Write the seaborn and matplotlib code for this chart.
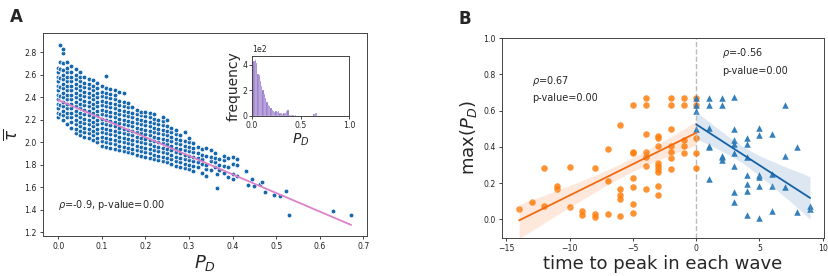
import numpy as np
import pandas as pd
import matplotlib
matplotlib.use("Agg")
import matplotlib.pyplot as plt
import seaborn as sns

sns.set_style("ticks")
plt.rcParams['font.family'] = ['DejaVu Sans']

# ---------------- Panel A data ----------------
pd_cols = [0.00, 0.005, 0.01, 0.02, 0.03, 0.04, 0.05, 0.06, 0.07, 0.08, 0.09, 0.10,
           0.11, 0.12, 0.13, 0.14, 0.15, 0.16, 0.17, 0.18, 0.19, 0.20, 0.21, 0.22,
           0.23, 0.24, 0.25, 0.26, 0.27, 0.28, 0.29, 0.30, 0.31, 0.32, 0.33, 0.34,
           0.35, 0.36, 0.365, 0.37, 0.38, 0.39, 0.40, 0.41]
tau_cols = [
    [2.22, 2.26, 2.30, 2.34, 2.38, 2.42, 2.46, 2.50, 2.54, 2.58, 2.62, 2.66],
    [2.25, 2.33, 2.41, 2.49, 2.57, 2.65, 2.71, 2.86],
    [2.20, 2.24, 2.28, 2.32, 2.36, 2.40, 2.44, 2.48, 2.52, 2.56, 2.60, 2.64, 2.70, 2.79, 2.83],
    [2.16, 2.22, 2.26, 2.30, 2.34, 2.38, 2.42, 2.46, 2.50, 2.54, 2.58, 2.62, 2.66, 2.71],
    [2.13, 2.18, 2.22, 2.26, 2.30, 2.34, 2.38, 2.42, 2.46, 2.50, 2.54, 2.58, 2.62, 2.68],
    [2.08, 2.12, 2.16, 2.20, 2.24, 2.28, 2.32, 2.36, 2.40, 2.44, 2.48, 2.52, 2.56, 2.60, 2.65],
    [2.06, 2.10, 2.14, 2.18, 2.22, 2.26, 2.30, 2.34, 2.38, 2.42, 2.46, 2.50, 2.54, 2.58, 2.62],
    [2.05, 2.09, 2.13, 2.17, 2.21, 2.25, 2.29, 2.33, 2.37, 2.41, 2.45, 2.49, 2.53, 2.58],
    [2.04, 2.08, 2.12, 2.16, 2.20, 2.24, 2.28, 2.32, 2.36, 2.40, 2.44, 2.48, 2.52, 2.56],
    [2.02, 2.06, 2.10, 2.14, 2.18, 2.22, 2.26, 2.30, 2.34, 2.38, 2.42, 2.46, 2.50, 2.55],
    [2.00, 2.04, 2.08, 2.12, 2.16, 2.20, 2.24, 2.28, 2.32, 2.36, 2.40, 2.44, 2.48, 2.53],
    [1.97, 2.01, 2.05, 2.09, 2.13, 2.17, 2.21, 2.25, 2.29, 2.33, 2.37, 2.41, 2.45, 2.50],
    [1.96, 2.00, 2.04, 2.08, 2.12, 2.16, 2.20, 2.24, 2.28, 2.32, 2.36, 2.40, 2.44, 2.48, 2.59],
    [1.95, 1.99, 2.03, 2.07, 2.11, 2.15, 2.19, 2.23, 2.27, 2.31, 2.35, 2.39, 2.43, 2.47],
    [1.94, 1.98, 2.02, 2.06, 2.10, 2.14, 2.18, 2.22, 2.26, 2.30, 2.34, 2.38, 2.42, 2.46],
    [1.93, 1.97, 2.01, 2.05, 2.09, 2.13, 2.17, 2.21, 2.25, 2.29, 2.33, 2.37, 2.45],
    [1.92, 1.96, 2.00, 2.04, 2.08, 2.12, 2.16, 2.20, 2.24, 2.28, 2.32, 2.36, 2.44],
    [1.91, 1.95, 1.99, 2.03, 2.07, 2.11, 2.15, 2.19, 2.23, 2.27, 2.31, 2.35],
    [1.90, 1.94, 1.98, 2.02, 2.06, 2.10, 2.14, 2.18, 2.22, 2.26, 2.31],
    [1.89, 1.93, 1.97, 2.01, 2.05, 2.09, 2.13, 2.17, 2.21, 2.25, 2.29],
    [1.88, 1.92, 1.96, 2.00, 2.04, 2.08, 2.12, 2.16, 2.20, 2.24, 2.27],
    [1.87, 1.91, 1.95, 1.99, 2.03, 2.07, 2.11, 2.15, 2.19, 2.23, 2.27],
    [1.86, 1.90, 1.94, 1.98, 2.02, 2.06, 2.10, 2.14, 2.18, 2.22, 2.26],
    [1.85, 1.89, 1.93, 1.97, 2.01, 2.05, 2.09, 2.13, 2.17, 2.21, 2.25],
    [1.84, 1.88, 1.92, 1.96, 2.00, 2.04, 2.08, 2.12, 2.16, 2.20],
    [1.83, 1.87, 1.91, 1.95, 1.99, 2.03, 2.07, 2.11, 2.15, 2.19, 2.22],
    [1.82, 1.86, 1.90, 1.94, 1.98, 2.02, 2.06, 2.10, 2.14, 2.20],
    [1.81, 1.85, 1.89, 1.93, 1.97, 2.01, 2.05, 2.09, 2.13],
    [1.79, 1.83, 1.87, 1.91, 1.95, 1.99, 2.03, 2.07, 2.11],
    [1.78, 1.82, 1.86, 1.90, 1.94, 1.98, 2.02, 2.06],
    [1.77, 1.81, 1.85, 1.89, 1.93, 1.97, 2.01, 2.09],
    [1.76, 1.80, 1.84, 1.88, 1.92, 1.96, 2.00, 2.04],
    [1.74, 1.79, 1.83, 1.87, 1.91, 1.95, 1.99],
    [1.78, 1.82, 1.86, 1.90, 1.96],
    [1.73, 1.81, 1.85, 1.89, 1.94],
    [1.70, 1.76, 1.80, 1.88, 1.95],
    [1.75, 1.83, 1.87, 1.93],
    [1.78, 1.82, 1.86, 1.90],
    [1.59, 1.72],
    [1.75, 1.80, 1.85],
    [1.73, 1.79, 1.84, 1.88],
    [1.69, 1.78, 1.86],
    [1.67, 1.72, 1.81, 1.87],
    [1.70, 1.80, 1.85],
]
pd_tail = [0.432, 0.435, 0.445, 0.450, 0.462, 0.468, 0.475, 0.495, 0.508, 0.522, 0.530, 0.630, 0.672]
tau_tail = [1.74, 1.62, 1.675, 1.615, 1.625, 1.65, 1.56, 1.535, 1.52, 1.57, 1.355, 1.39, 1.355]

# fitted trend line of panel A at its two ends
fit_pd = [0.0, 0.672]
fit_tau = [2.375, 1.265]

# inset histogram (counts, axis scaled by 1e2)
hist_counts = [420, 430, 435, 410, 330, 320, 270, 230, 200, 170, 140, 110, 85, 75, 60,
               45, 35, 30, 35, 30, 40, 25, 20, 15, 25, 20, 35, 45, 10, 5, 5, 4, 3, 5, 3,
               2, 0, 3, 0, 0, 0, 0, 0, 0, 0, 0, 0, 15, 25, 20]
hist_range = (0.0, 0.672)

# ---------------- Panel B data ----------------
t_before = [-14, -13, -12, -12, -11, -11, -10, -10, -9, -9, -8, -8, -8,
            -7, -7, -7, -6, -6, -6, -6, -6,
            -5, -5, -5, -5, -5, -5, -5,
            -4, -4, -4, -4, -4, -4, -4,
            -3, -3, -3, -3, -3, -3, -3, -3, -3,
            -2, -2, -2, -2, -2, -2, -2,
            -1, -1, -1, -1, -1,
            0, 0, 0, 0, 0]
p_before = [0.055, 0.095, 0.285, 0.073, 0.185, 0.167, 0.288, 0.066, 0.048, 0.022, 0.285, 0.031, 0.010,
            0.389, 0.211, 0.031, 0.523, 0.167, 0.132, 0.112, 0.017,
            0.631, 0.371, 0.367, 0.226, 0.178, 0.084, 0.037,
            0.672, 0.631, 0.468, 0.371, 0.345, 0.292, 0.167,
            0.462, 0.451, 0.405, 0.308, 0.292, 0.275, 0.259, 0.185, 0.136,
            0.672, 0.631, 0.499, 0.405, 0.371, 0.336, 0.279,
            0.672, 0.631, 0.435, 0.405, 0.367,
            0.672, 0.631, 0.450, 0.365, 0.285]
t_after = [0, 0, 0, 0,
           1, 1, 1, 1, 1, 1,
           2, 2, 2, 2, 2,
           3, 3, 3, 3, 3, 3, 3, 3,
           4, 4, 4, 4, 4, 4, 4,
           5, 5, 5, 5, 5, 5,
           6, 6, 6, 6,
           7, 7, 7,
           8, 8,
           9, 9]
p_after = [0.672, 0.631, 0.600, 0.500,
           0.672, 0.631, 0.503, 0.405, 0.398, 0.220,
           0.672, 0.631, 0.350, 0.343, 0.328,
           0.675, 0.499, 0.437, 0.417, 0.367, 0.294, 0.150, 0.094,
           0.450, 0.413, 0.343, 0.244, 0.193, 0.156, 0.024,
           0.506, 0.466, 0.244, 0.235, 0.183, 0.007,
           0.470, 0.248, 0.183, 0.046,
           0.631, 0.349, 0.178,
           0.398, 0.039,
           0.075, 0.055]

# ---------------- build frames ----------------
pd_all = []
tau_all = []
for c, vals in zip(pd_cols, tau_cols):
    for v in vals:
        pd_all.append(c)
        tau_all.append(v)
pd_all += pd_tail
tau_all += tau_tail
dfA = pd.DataFrame({"PD": pd_all, "tau": tau_all})
dfFit = pd.DataFrame({"PD": fit_pd, "tau": fit_tau})

n_bins = len(hist_counts)
edges = np.linspace(hist_range[0], hist_range[1], n_bins + 1)
centers = (edges[:-1] + edges[1:]) / 2
dfH = pd.DataFrame({"PD": centers, "count": np.array(hist_counts, dtype=float)})

dfB1 = pd.DataFrame({"t": t_before, "p": p_before})
dfB2 = pd.DataFrame({"t": t_after, "p": p_after})

# ---------------- figure ----------------
fig = plt.figure(figsize=(8.29, 2.76), dpi=100)
tick_fs = 5.6
spine_col = "#444444"

axA = fig.add_axes([0.052, 0.145, 0.391, 0.735])
sns.scatterplot(data=dfA, x="PD", y="tau", ax=axA, color="#1767ae", s=12,
                edgecolor="white", linewidth=0.6)
sns.lineplot(data=dfFit, x="PD", y="tau", ax=axA, color="#dc82c8", lw=1.3)
axA.set_xlim(-0.0345, 0.709)
axA.set_ylim(1.167, 2.969)
xtA = np.arange(0, 0.71, 0.1)
ytA = np.arange(1.2, 2.81, 0.2)
axA.set_xticks(xtA)
axA.set_yticks(ytA)
axA.set_xticklabels([f"{v:.1f}" for v in xtA])
axA.set_yticklabels([f"{v:.1f}" for v in ytA])
axA.tick_params(labelsize=tick_fs, length=2.5, width=0.6, pad=2, colors="#222222")
axA.set_xlabel(r"$P_D$", fontsize=13, labelpad=1)
axA.set_ylabel(r"$\overline{\tau}$", fontsize=12, labelpad=2)
axA.text(0.0, 1.443, r"$\rho$=-0.9, p-value=0.00", fontsize=7, va="center", ha="left")
for s in axA.spines.values():
    s.set_color(spine_col)
    s.set_linewidth(0.7)

# inset
axI = fig.add_axes([0.304, 0.580, 0.117, 0.217])
sns.histplot(data=dfH, x="PD", weights="count", bins=n_bins, binrange=hist_range, ax=axI,
             color="#7a55bd", alpha=0.85, edgecolor="white", linewidth=0.2)
axI.set_xlim(0, 1.0)
axI.set_ylim(0, 467)
axI.set_xticks([0, 0.5, 1.0])
axI.set_xticklabels(["0.0", "0.5", "1.0"])
axI.set_yticks([0, 200, 400])
axI.ticklabel_format(axis="y", style="sci", scilimits=(2, 2))
axI.yaxis.get_offset_text().set_fontsize(tick_fs)
axI.tick_params(labelsize=tick_fs, length=2, width=0.6, pad=1.5)
axI.set_xlabel(r"$P_D$", fontsize=10, labelpad=1)
axI.set_ylabel("frequency", fontsize=10, labelpad=1)
for s in axI.spines.values():
    s.set_color(spine_col)
    s.set_linewidth(0.7)

# panel B
axB = fig.add_axes([0.6055, 0.138, 0.3885, 0.724])
axB.axvline(0, color="#bbbbbb", ls="--", lw=1.0, zorder=0)
sns.regplot(data=dfB1, x="t", y="p", ax=axB, color="#ff7f0e", marker="o",
            scatter_kws=dict(s=22, alpha=0.85, linewidths=0),
            line_kws=dict(color="#f26a10", lw=1.3), seed=1)
sns.regplot(data=dfB2, x="t", y="p", ax=axB, color="#2a79b8", marker="^",
            scatter_kws=dict(s=22, alpha=0.95, linewidths=0),
            line_kws=dict(color="#1461a8", lw=1.3), seed=1)
axB.set_xlim(-15.35, 10.1)
axB.set_ylim(-0.103, 1.0)
axB.set_xticks([-15, -10, -5, 0, 5, 10])
axB.set_xticklabels(["\u221215", "\u221210", "\u22125", "0", "5", "10"])
ytB = np.arange(0, 1.01, 0.2)
axB.set_yticks(ytB)
axB.set_yticklabels([f"{v:.1f}" for v in ytB])
axB.tick_params(labelsize=tick_fs, length=2.5, width=0.6, pad=2, colors="#222222")
axB.set_xlabel("time to peak in each wave", fontsize=13, labelpad=1)
axB.set_ylabel(r"max($P_D$)", fontsize=13, labelpad=3)
axB.text(-13.0, 0.765, r"$\rho$=0.67", fontsize=7, va="center", ha="left")
axB.text(-13.0, 0.67, "p-value=0.00", fontsize=7, va="center", ha="left")
axB.text(2.05, 0.917, r"$\rho$=-0.56", fontsize=7, va="center", ha="left")
axB.text(2.05, 0.82, "p-value=0.00", fontsize=7, va="center", ha="left")
for s in axB.spines.values():
    s.set_color(spine_col)
    s.set_linewidth(0.7)

fig.text(0.012, 0.972, "A", fontsize=12, fontweight="bold", va="top", ha="left")
fig.text(0.553, 0.965, "B", fontsize=12, fontweight="bold", va="top", ha="left")

fig.savefig("out.png", dpi=100)
